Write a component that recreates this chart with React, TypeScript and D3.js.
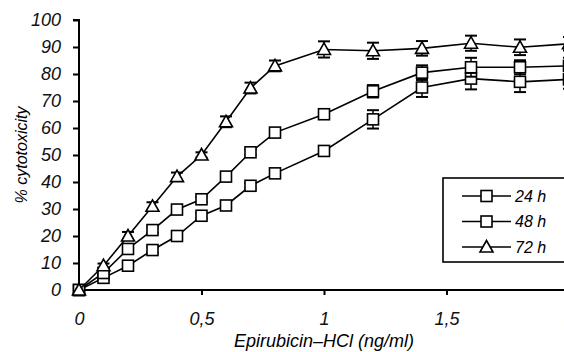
import React, { useEffect, useRef } from 'react';
import * as d3 from 'd3';

// concentration (ng/ml)
const doses = [0, 0.1, 0.2, 0.3, 0.4, 0.5, 0.6, 0.7, 0.8, 1.0, 1.2, 1.4, 1.6, 1.8, 2.0];

// % cytotoxicity per exposure time, with error (SD)
const h24 = [0, 4.5, 9, 14.8, 20, 27.5, 31.3, 38.6, 43.2, 51.5, 63.2, 75, 78.3, 77.1, 78];
const h24Err = [0, 0.8, 1, 1, 1, 1, 1, 1, 1, 1.2, 3.4, 3.5, 4, 3.8, 3.5];
const h48 = [0, 6.3, 15.2, 22.2, 29.8, 33.6, 42, 51, 58.3, 65.1, 73.6, 80.5, 82.5, 82.5, 83];
const h48Err = [0, 0.8, 1, 1, 1, 1, 1, 1, 1, 1.5, 2.3, 2.7, 3.5, 2.6, 3];
const h72 = [0, 9, 20, 31, 42, 50, 62.3, 74.8, 83, 89.1, 88.6, 89.5, 91.4, 89.9, 91.2];
const h72Err = [0, 0.8, 1.5, 1.5, 1.5, 1, 2, 2, 2, 3, 3, 2.7, 2.8, 2.9, 2.5];

const seriesNames = ['24 h', '48 h', '72 h'];
const yTicks = [0, 10, 20, 30, 40, 50, 60, 70, 80, 90, 100];
const xTicks = [0, 0.5, 1, 1.5, 2];

const FONT = "'Liberation Sans', Arial, sans-serif";

const App = () => {
  const ref = useRef<SVGSVGElement>(null);

  useEffect(() => {
    drawChart();
  }, []);

  const drawChart = () => {
    const svg = d3.select(ref.current);
    svg.selectAll('*').remove();

    const x = d3.scaleLinear().domain([0, 2]).range([79, 569]);
    const y = d3.scaleLinear().domain([0, 100]).range([290, 20]);

    const series = [
      { name: seriesNames[0], vals: h24, err: h24Err, shape: 'square' },
      { name: seriesNames[1], vals: h48, err: h48Err, shape: 'square' },
      { name: seriesNames[2], vals: h72, err: h72Err, shape: 'triangle' },
    ];

    const drawMarker = (g, shape, cx, cy) => {
      if (shape === 'square') {
        g.append('rect')
          .attr('x', cx - 5.5).attr('y', cy - 5.5)
          .attr('width', 11).attr('height', 11)
          .attr('fill', '#fff').attr('stroke', '#000').attr('stroke-width', 1.6);
      } else {
        g.append('path')
          .attr('d', `M${cx},${cy - 6.5}L${cx + 6.5},${cy + 5}L${cx - 6.5},${cy + 5}Z`)
          .attr('fill', '#fff').attr('stroke', '#000').attr('stroke-width', 1.6);
      }
    };

    // axes
    const yAxis = svg.append('g')
      .attr('transform', `translate(${x(0)},0)`)
      .call(d3.axisLeft(y).tickValues(yTicks).tickSize(6).tickFormat(d3.format('d')));
    yAxis.select('.domain').attr('stroke-width', 2).attr('d', `M-6,${y(100)}H0V${y(0)}`);
    yAxis.selectAll('.tick line').attr('stroke-width', 2);
    yAxis.selectAll('text')
      .attr('x', -18)
      .style('font-family', FONT).style('font-style', 'italic').style('font-size', '18px')
      .attr('fill', '#111');

    const xAxis = svg.append('g')
      .attr('transform', `translate(0,${y(0)})`)
      .call(d3.axisBottom(x).tickValues(xTicks).tickSize(5)
        .tickFormat(d => d3.format('~g')(d).replace('.', ',')));
    xAxis.select('.domain').attr('stroke-width', 2).attr('d', `M${x(0)},0H${x(2.1)}`);
    xAxis.selectAll('.tick line').attr('stroke-width', 2);
    xAxis.selectAll('.tick').filter(d => d === 0).select('line').remove();
    xAxis.selectAll('text')
      .attr('y', 22)
      .style('font-family', FONT).style('font-style', 'italic').style('font-size', '18px')
      .attr('fill', '#111');

    // axis titles
    svg.append('text')
      .attr('transform', `translate(27,${y(50)}) rotate(-90)`)
      .attr('text-anchor', 'middle')
      .style('font-family', FONT).style('font-style', 'italic').style('font-size', '16px')
      .text('% cytotoxicity');

    svg.append('text')
      .attr('x', x(1)).attr('y', 347)
      .attr('text-anchor', 'middle')
      .style('font-family', FONT).style('font-style', 'italic').style('font-size', '18px')
      .text('Epirubicin–HCl (ng/ml)');

    const line = d3.line<number>().x((d, i) => x(doses[i])).y(d => y(d));

    series.forEach(s => {
      const g = svg.append('g');
      g.append('path')
        .attr('d', line(s.vals))
        .attr('fill', 'none').attr('stroke', '#000').attr('stroke-width', 1.6);

      // error bars
      s.vals.forEach((v, i) => {
        if (!s.err[i]) return;
        const cx = x(doses[i]);
        [v - s.err[i], v + s.err[i]].forEach(e => {
          g.append('line')
            .attr('x1', cx).attr('x2', cx).attr('y1', y(v)).attr('y2', y(e))
            .attr('stroke', '#000').attr('stroke-width', 1.5);
          g.append('line')
            .attr('x1', cx - 6).attr('x2', cx + 6).attr('y1', y(e)).attr('y2', y(e))
            .attr('stroke', '#000').attr('stroke-width', 2);
        });
      });

      s.vals.forEach((v, i) => drawMarker(g, s.shape, x(doses[i]), y(v)));
    });

    // legend
    const legend = svg.append('g').attr('transform', 'translate(443,178)');
    legend.append('rect')
      .attr('width', 140).attr('height', 84)
      .attr('fill', '#fff').attr('stroke', '#000').attr('stroke-width', 1.6);
    series.forEach((s, i) => {
      const ly = 18 + i * 25.5;
      legend.append('line')
        .attr('x1', 19).attr('x2', 68).attr('y1', ly).attr('y2', ly)
        .attr('stroke', '#000').attr('stroke-width', 1.6);
      drawMarker(legend, s.shape, 43.5, ly);
      legend.append('text')
        .attr('x', 72).attr('y', ly).attr('dy', '0.36em')
        .style('font-family', FONT).style('font-style', 'italic').style('font-size', '16px')
        .text(s.name);
    });
  };

  return (
    <svg ref={ref} width={564} height={352}
      style={{ position: 'fixed', left: 0, top: 0, background: '#fff' }} />
  );
};

export default App;
